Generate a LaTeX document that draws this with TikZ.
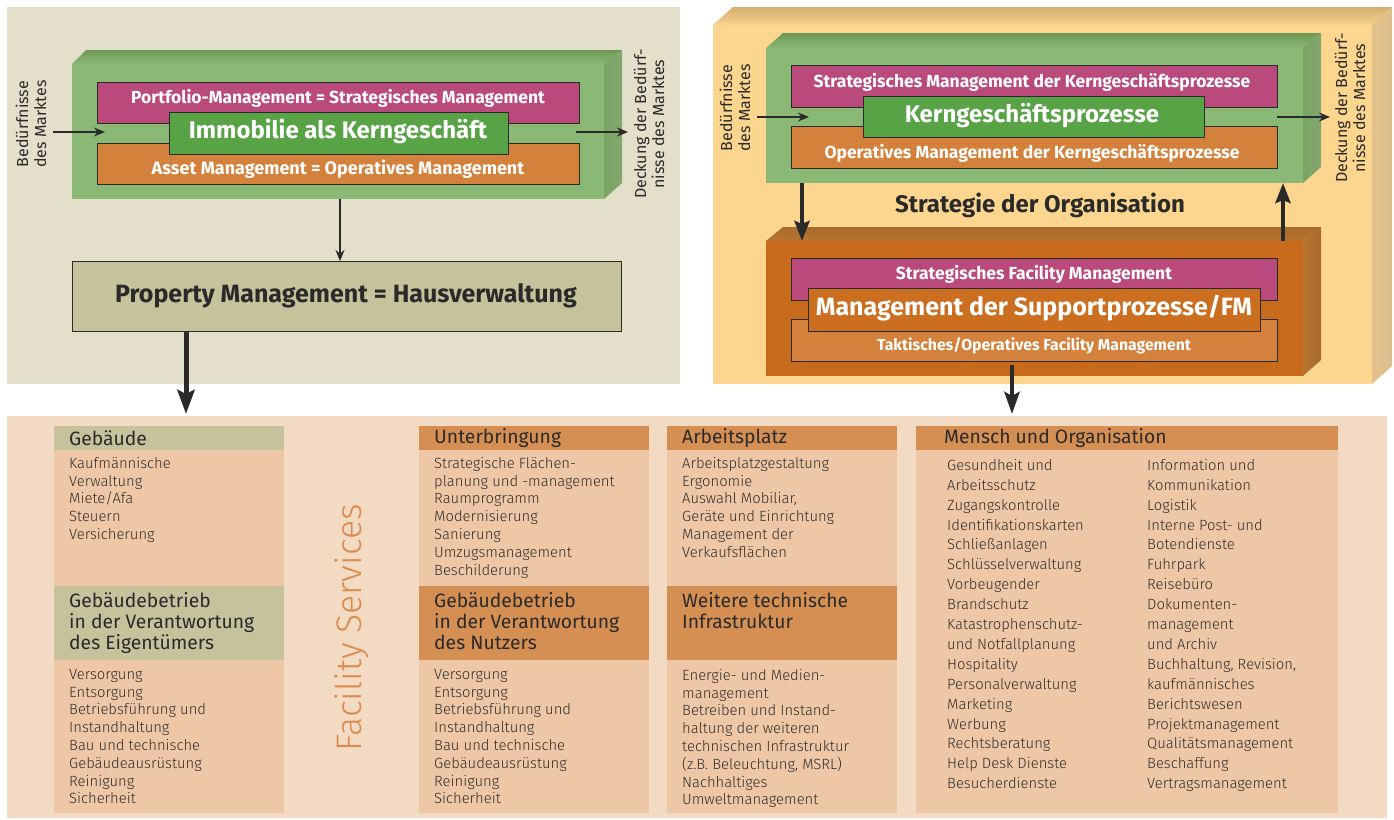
\documentclass[tikz,border=0pt]{standalone}
\usepackage{fontspec}
\setmainfont{Fira Sans}
\newfontfamily\lightsans{Fira Sans Light}
\usetikzlibrary{arrows.meta}

\definecolor{panelgrey}{HTML}{E3DFCA}
\definecolor{panelyellow}{HTML}{FCD68E}
\definecolor{paneltan}{HTML}{D2AE70}
\definecolor{sideyellow}{HTML}{E2C28A}
\definecolor{fsback}{HTML}{F3DAC3}
\definecolor{fsbody}{HTML}{EEC7A6}
\definecolor{khaki}{HTML}{C6C29C}
\definecolor{headorange}{HTML}{D68F53}
\definecolor{magentabox}{HTML}{BA4A7C}
\definecolor{greenouter}{HTML}{8AB875}
\definecolor{greentop}{HTML}{6E9756}
\definecolor{greenside}{HTML}{78A563}
\definecolor{greencore}{HTML}{57A345}
\definecolor{orangebox}{HTML}{D4813C}
\definecolor{fmfront}{HTML}{C86A1C}
\definecolor{fmtop}{HTML}{A8692E}
\definecolor{fmside}{HTML}{B8762F}
\definecolor{fmcore}{HTML}{CB6E1F}
\definecolor{inkdark}{HTML}{2A2A2A}
\definecolor{inkbody}{HTML}{2E2E2E}
\definecolor{fslabel}{HTML}{DA8B4E}

\tikzset{
  framed/.style={draw=inkdark, line width=0.9pt, inner sep=0pt, anchor=north west},
  plain/.style={inner sep=0pt, anchor=north west},
  whitesmall/.style={text=white, font=\bfseries\fontsize{17.5}{20}\selectfont, inner sep=0pt},
  whitebig/.style={text=white, font=\bfseries\fontsize{24}{27}\selectfont, inner sep=0pt},
  darkbig/.style={text=inkdark, font=\bfseries\fontsize{25}{28}\selectfont, inner sep=0pt},
  sidenote/.style={rotate=90, align=center, text=inkdark, font=\fontsize{16}{18}\selectfont, inner sep=0pt},
  thinarrow/.style={draw=inkdark, line width=2pt, -{Stealth[length=11pt, width=9pt]}},
  thickarrow/.style={draw=inkdark, line width=5pt, -{Stealth[length=24pt, width=17pt, inset=4pt]}},
  headtext/.style={anchor=west, inner sep=0pt, text=inkdark, align=left, font=\fontsize{19.3}{21.5}\selectfont},
  headblock/.style={anchor=north west, inner sep=0pt, text=inkdark, align=left, font=\fontsize{19.3}{21}\selectfont},
  bodytext/.style={anchor=north west, inner sep=0pt, text=inkbody, align=left, font=\lightsans\fontsize{14.8}{17.8}\selectfont},
  bodywide/.style={anchor=north west, inner sep=0pt, text=inkbody, align=left, font=\lightsans\fontsize{14.8}{19.9}\selectfont},
}

\begin{document}
\begin{tikzpicture}[x=1pt, y=-1pt]
\useasboundingbox (0,0) rectangle (1394,819);
\fill[white] (0,0) rectangle (1394,819);

% ---------------- real estate as core business ----------------
\node[plain, fill=panelgrey, minimum width=673pt, minimum height=377pt] (panelL) at (7,7) {};

% green block with depth
\shade[top color=greentop, bottom color=greenouter] (72,64) -- (86,50) -- (622,50) -- (604,64) -- cycle;
\shade[left color=greenside, right color=greentop!85] (604,64) -- (622,50) -- (622,183) -- (604,199) -- cycle;
\node[plain, fill=greenouter, minimum width=532pt, minimum height=135pt] (greenL) at (72,64) {};

\node[framed, fill=magentabox, minimum width=482pt, minimum height=41pt] (portfolio) at (97,82) {};
\node[framed, fill=orangebox, minimum width=482pt, minimum height=41pt] (asset) at (97,143) {};
\node[framed, fill=greencore, minimum width=339pt, minimum height=42pt] (immo) at (169,112) {};
\node[whitesmall] (portfoliotxt) at (338,98) {Portfolio-Management = Strategisches Management};
\node[whitesmall, font=\bfseries\fontsize{18}{20}\selectfont] (assettxt) at (338,169) {Asset Management = Operatives Management};
\node[whitebig] (immotxt) at (338,131) {Immobilie als Kerngeschäft};

\node[sidenote] (needsL) at (31,124) {Bedürfnisse\\des Marktes};
\node[sidenote] (coverL) at (649,124) {Deckung der Bedürf-\\nisse des Marktes};
\coordinate (inL) at (53,132);
\coordinate (inLend) at (105,132);
\coordinate (outL) at (576,132);
\coordinate (outLend) at (628,132);
\draw[thinarrow] (inL) -- (inLend);
\draw[thinarrow] (outL) -- (outLend);

\node[framed, fill=khaki, minimum width=549pt, minimum height=70pt] (property) at (72,261) {};
\node[darkbig] (propertytxt) at (346,296) {Property Management = Hausverwaltung};
\coordinate (greenLfoot) at (340,199);
\draw[thinarrow] (greenLfoot) -- (greenLfoot |- property.north);

% ---------------- organisation strategy ----------------
\shade[top color=paneltan, bottom color=panelyellow!90!paneltan] (713,25) -- (733,7) -- (1392,7) -- (1372,25) -- cycle;
\shade[left color=sideyellow, right color=paneltan!80] (1372,25) -- (1392,7) -- (1392,366) -- (1372,384) -- cycle;
\node[plain, fill=panelyellow, minimum width=659pt, minimum height=359pt] (panelR) at (713,25) {};

\shade[top color=greentop, bottom color=greenouter] (766,48) -- (783,33) -- (1321,33) -- (1303,48) -- cycle;
\shade[left color=greenside, right color=greentop!85] (1303,48) -- (1321,33) -- (1321,167) -- (1303,183) -- cycle;
\node[plain, fill=greenouter, minimum width=537pt, minimum height=135pt] (greenR) at (766,48) {};

\node[framed, fill=magentabox, minimum width=486pt, minimum height=42pt] (stratcore) at (791,65) {};
\node[framed, fill=orangebox, minimum width=486pt, minimum height=42pt] (opcore) at (791,126) {};
\node[framed, fill=greencore, minimum width=341pt, minimum height=41pt] (core) at (863,96) {};
\node[whitesmall] (stratcoretxt) at (1032,82) {Strategisches Management der Kerngeschäftsprozesse};
\node[whitesmall] (opcoretxt) at (1032,153) {Operatives Management der Kerngeschäftsprozesse};
\node[whitebig] (coretxt) at (1032,116) {Kerngeschäftsprozesse};

\node[sidenote] (needsR) at (735,108) {Bedürfnisse\\des Marktes};
\node[sidenote] (coverR) at (1350,108) {Deckung der Bedürf-\\nisse des Marktes};
\coordinate (inR) at (757,117);
\coordinate (inRend) at (809,117);
\coordinate (outR) at (1277,117);
\coordinate (outRend) at (1330,117);
\draw[thinarrow] (inR) -- (inRend);
\draw[thinarrow] (outR) -- (outRend);

\node[darkbig, font=\bfseries\fontsize{24}{27}\selectfont] (strategy) at (1040,205) {Strategie der Organisation};

\shade[top color=fmtop, bottom color=fmside] (766,241) -- (783,227) -- (1321,227) -- (1303,241) -- cycle;
\shade[left color=fmside, right color=fmtop] (1303,241) -- (1321,227) -- (1321,360) -- (1303,376) -- cycle;
\node[plain, fill=fmfront, minimum width=537pt, minimum height=135pt] (fm) at (766,241) {};

\node[framed, fill=magentabox, minimum width=486pt, minimum height=42pt] (stratfm) at (791,258) {};
\node[framed, fill=orangebox, minimum width=486pt, minimum height=42pt] (opfm) at (791,319) {};
\node[framed, fill=fmcore, minimum width=452pt, minimum height=43pt] (support) at (808,288) {};
\node[whitesmall] (stratfmtxt) at (1034,274) {Strategisches Facility Management};
\node[whitesmall, font=\bfseries\fontsize{15.8}{18}\selectfont] (opfmtxt) at (1034,346) {Taktisches/Operatives Facility Management};
\node[whitebig, font=\bfseries\fontsize{25}{28}\selectfont] (supporttxt) at (1034,308) {Management der Supportprozesse/FM};

\coordinate (downR) at (802,183);
\coordinate (upR) at (1283,183);
\draw[thickarrow, line width=4.5pt, -{Stealth[length=20pt, width=15pt, inset=3pt]}] (downR) -- (downR |- fm.north);
\draw[thickarrow, line width=4.5pt, -{Stealth[length=20pt, width=15pt, inset=3pt]}] (upR |- fm.north) -- (upR);

% ---------------- facility services ----------------
\node[plain, fill=fsback, minimum width=1380pt, minimum height=402pt] (fs) at (7,416) {};

\coordinate (fsL) at (186,414);
\coordinate (fsR) at (1012,414);
\draw[thickarrow] (property.south -| fsL) -- (fsL);
\draw[thickarrow, line width=4.5pt, -{Stealth[length=22pt, width=15pt, inset=4pt]}] (1012,365) -- (fsR);

\node[rotate=90, text=fslabel, font=\lightsans\fontsize{35.5}{38}\selectfont, inner sep=0pt] (fslabel) at (352,628) {Facility Services};

% column: building
\node[plain, fill=khaki, minimum width=230pt, minimum height=24pt] (h1a) at (54,426) {};
\node[plain, fill=fsbody, minimum width=230pt, minimum height=136pt] (b1a) at (54,450) {};
\node[plain, fill=khaki, minimum width=230pt, minimum height=74pt] (h1b) at (54,586) {};
\node[plain, fill=fsbody, minimum width=230pt, minimum height=153pt] (b1b) at (54,660) {};
\node[headtext] (t1a) at (69,438.5) {Gebäude};
\node[bodytext] (l1a) at (69,457) {Kaufmännische\\Verwaltung\\Miete/Afa\\Steuern\\Versicherung};
\node[headblock] (t1b) at (69,592) {Gebäudebetrieb\\in der Verantwortung\\des Eigentümers};
\node[bodytext] (l1b) at (69,669) {Versorgung\\Entsorgung\\Betriebsführung und\\Instandhaltung\\Bau und technische\\Gebäudeausrüstung\\Reinigung\\Sicherheit};

% column: accommodation
\node[plain, fill=headorange, minimum width=230pt, minimum height=24pt] (h2a) at (419,426) {};
\node[plain, fill=fsbody, minimum width=230pt, minimum height=136pt] (b2a) at (419,450) {};
\node[plain, fill=headorange, minimum width=230pt, minimum height=74pt] (h2b) at (419,586) {};
\node[plain, fill=fsbody, minimum width=230pt, minimum height=153pt] (b2b) at (419,660) {};
\node[headtext] (t2a) at (434,438.5) {Unterbringung};
\node[bodytext] (l2a) at (434,457) {Strategische Flächen-\\planung und -management\\Raumprogramm\\Modernisierung\\Sanierung\\Umzugsmanagement\\Beschilderung};
\node[headblock] (t2b) at (434,592) {Gebäudebetrieb\\in der Verantwortung\\des Nutzers};
\node[bodytext] (l2b) at (434,669) {Versorgung\\Entsorgung\\Betriebsführung und\\Instandhaltung\\Bau und technische\\Gebäudeausrüstung\\Reinigung\\Sicherheit};

% column: workplace
\node[plain, fill=headorange, minimum width=230pt, minimum height=24pt] (h3a) at (667,426) {};
\node[plain, fill=fsbody, minimum width=230pt, minimum height=136pt] (b3a) at (667,450) {};
\node[plain, fill=headorange, minimum width=230pt, minimum height=74pt] (h3b) at (667,586) {};
\node[plain, fill=fsbody, minimum width=230pt, minimum height=153pt] (b3b) at (667,660) {};
\node[headtext] (t3a) at (682,438.5) {Arbeitsplatz};
\node[bodytext] (l3a) at (682,457) {Arbeitsplatzgestaltung\\Ergonomie\\Auswahl Mobiliar,\\Geräte und Einrichtung\\Management der\\Verkaufsflächen};
\node[headblock] (t3b) at (682,592) {Weitere technische\\Infrastruktur};
\node[bodytext] (l3b) at (682,669) {Energie- und Medien-\\management\\Betreiben und Instand-\\haltung der weiteren\\technischen Infrastruktur\\(z.B. Beleuchtung, MSRL)\\Nachhaltiges\\Umweltmanagement};

% column: people and organisation
\node[plain, fill=headorange, minimum width=422pt, minimum height=24pt] (h4) at (916,426) {};
\node[plain, fill=fsbody, minimum width=422pt, minimum height=363pt] (b4) at (916,450) {};
\node[headtext] (t4) at (944,438.5) {Mensch und Organisation};
\node[bodywide] (l4a) at (947,459) {Gesundheit und\\Arbeitsschutz\\Zugangskontrolle\\Identifikationskarten\\Schließanlagen\\Schlüsselverwaltung\\Vorbeugender\\Brandschutz\\Katastrophenschutz-\\und Notfallplanung\\Hospitality\\Personalverwaltung\\Marketing\\Werbung\\Rechtsberatung\\Help Desk Dienste\\Besucherdienste};
\node[bodywide] (l4b) at (1147,459) {Information und\\Kommunikation\\Logistik\\Interne Post- und\\Botendienste\\Fuhrpark\\Reisebüro\\Dokumenten-\\management\\und Archiv\\Buchhaltung, Revision,\\kaufmännisches\\Berichtswesen\\Projektmanagement\\Qualitätsmanagement\\Beschaffung\\Vertragsmanagement};
\end{tikzpicture}
\end{document}
